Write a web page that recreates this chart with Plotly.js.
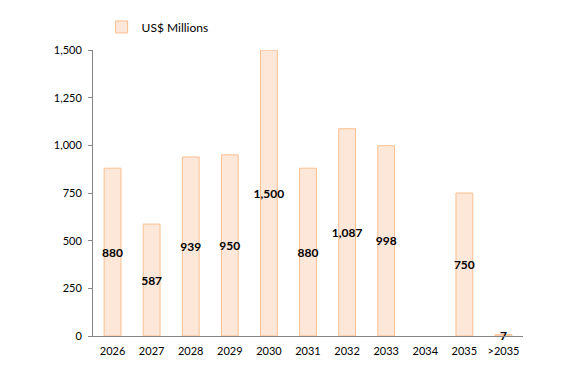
<!DOCTYPE html>
<html>
<head>
<meta charset="utf-8">
<script src="https://cdn.plot.ly/plotly-3.0.1.min.js"></script>
<style>html,body{margin:0;padding:0;background:#fff;}#chart{width:585px;height:380px;}</style>
</head>
<body>
<div id="chart"></div>
<script>
var categories = ["2026","2027","2028","2029","2030","2031","2032","2033","2034","2035",">2035"];
var values = [880, 587, 939, 950, 1500, 880, 1087, 998, null, 750, 7];
var seriesName = "US$ Millions";
var yTicks = [0, 250, 500, 750, 1000, 1250, 1500];

var labels = values.map(function(v){ return v === null ? "" : v.toLocaleString("en-US"); });

var trace = {
  type: "bar",
  x: categories,
  y: values,
  name: seriesName,
  text: labels,
  textposition: "inside",
  insidetextanchor: "middle",
  textangle: 0,
  constraintext: "none",
  cliponaxis: false,
  textfont: {family: "Lato, 'Open Sans', sans-serif", size: 12, color: "#000", weight: "bold"},
  marker: {color: "#FDE7D9", line: {color: "#FABF8F", width: 1}},
  showlegend: true,
  hoverinfo: "none"
};

var layout = {
  width: 585, height: 380,
  margin: {l: 93, r: 62, t: 50, b: 44},
  paper_bgcolor: "#fff", plot_bgcolor: "#fff",
  bargap: 0.57,
  font: {family: "Lato, 'Open Sans', sans-serif", size: 11, color: "#000"},
  showlegend: true,
  legend: {x: 0.02, y: 1.03, xanchor: "left", yanchor: "bottom", orientation: "h",
           font: {size: 12, color: "#000"}, bgcolor: "rgba(0,0,0,0)"},
  xaxis: {type: "category", showline: true, linecolor: "#868686", linewidth: 1,
          ticks: "", showgrid: false, zeroline: false, tickfont: {size: 11}, ticklabelstandoff: 5},
  yaxis: {range: [0, 1500], tickvals: yTicks, tickformat: ",", showline: true,
          linecolor: "#868686", linewidth: 1, ticks: "outside", ticklen: 4, tickcolor: "#868686",
          showgrid: false, zeroline: false, tickfont: {size: 11}, ticklabelstandoff: 4}
};

Plotly.newPlot("chart", [trace], layout, {staticPlot: true, displayModeBar: false});
</script>
</body>
</html>
